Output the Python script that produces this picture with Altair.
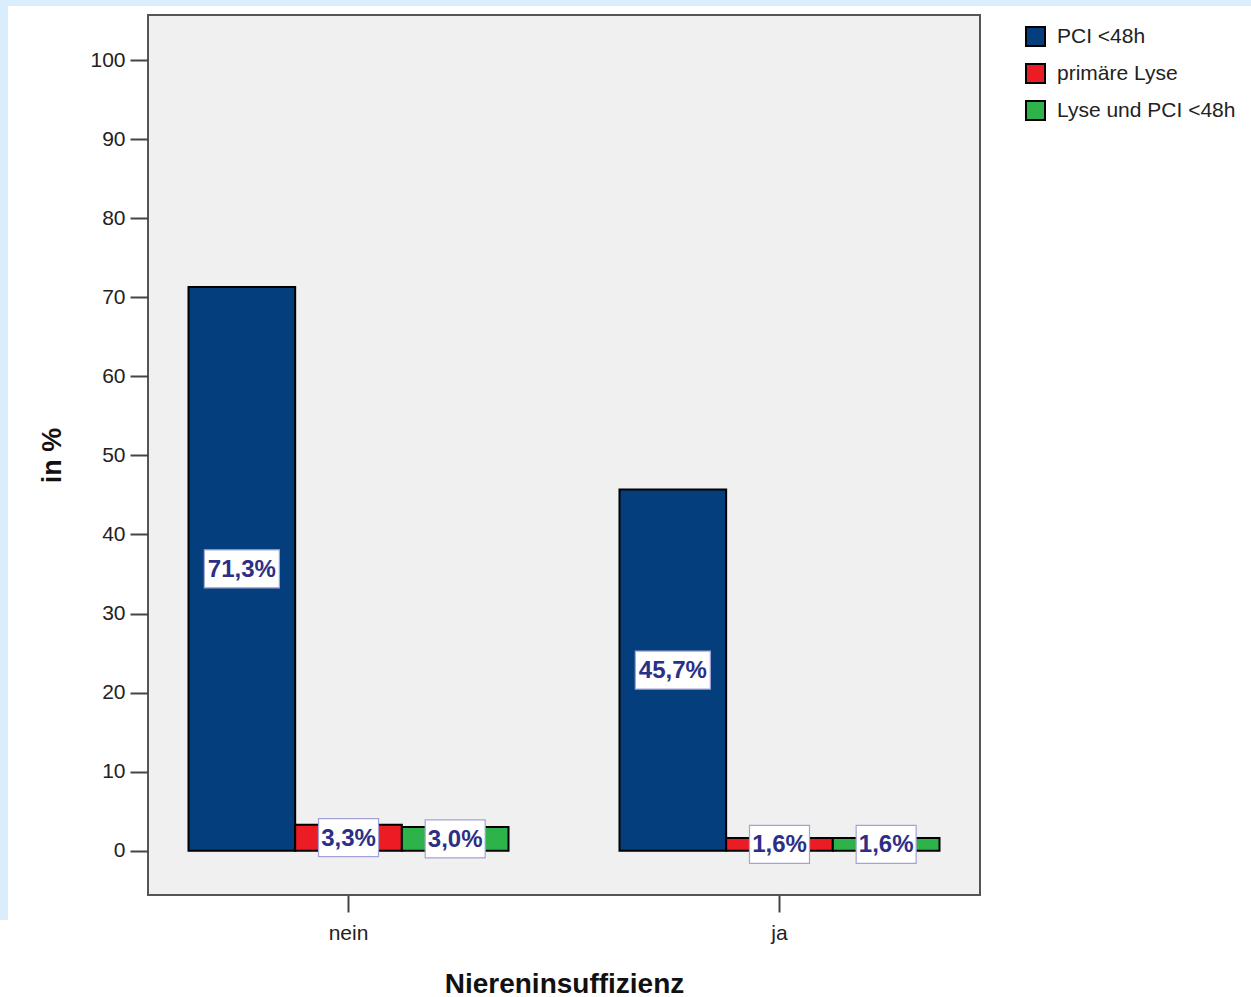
import altair as alt
import pandas as pd

# Treatment share by kidney insufficiency status
categories = ["nein", "ja"]
series = ["PCI <48h", "primäre Lyse", "Lyse und PCI <48h"]
values_nein = [71.3, 3.3, 3.0]
values_ja = [45.7, 1.6, 1.6]
colors = ["#043e7d", "#ec1c24", "#2eb34b"]
y_ticks = [0, 10, 20, 30, 40, 50, 60, 70, 80, 90, 100]

rows = []
for cat, vals in zip(categories, [values_nein, values_ja]):
    for s, v in zip(series, vals):
        rows.append({
            "Niereninsuffizienz": cat,
            "Gruppe": s,
            "Anteil": v,
            "Label": f"{v:.1f}".replace(".", ",") + "%",
        })
df = pd.DataFrame(rows)
df["LabelLen"] = df["Label"].str.len()

W, H = 832, 880
PAD_L, PAD_T = 148, 15
FONT = "Liberation Sans"

x_enc = alt.X(
    "Niereninsuffizienz:N",
    sort=categories,
    scale=alt.Scale(paddingInner=0.2575, paddingOuter=0.094),
    axis=alt.Axis(
        title="Niereninsuffizienz",
        labelAngle=0,
        labelFont=FONT,
        labelFontSize=21,
        labelColor="#222222",
        labelPadding=10,
        tickSize=17,
        tickWidth=2,
        tickColor="#444444",
        bandPosition=0.5,
        domain=False,
        titleFont=FONT,
        titleFontSize=28,
        titleFontWeight="bold",
        titleColor="#111111",
        titleY=89,
        titleBaseline="middle",
    ),
)
xoff_enc = alt.XOffset(
    "Gruppe:N", sort=series, scale=alt.Scale(paddingInner=0, paddingOuter=0)
)
y_scale = alt.Scale(domain=[-5.6, 105.7], nice=False, zero=False)

base = alt.Chart(df)

bars = base.mark_bar(stroke="black", strokeWidth=2).encode(
    x=x_enc,
    xOffset=xoff_enc,
    y=alt.Y(
        "Anteil:Q",
        scale=y_scale,
        axis=alt.Axis(
            title="in %",
            values=y_ticks,
            grid=False,
            domain=False,
            labelFont=FONT,
            labelFontSize=21,
            labelColor="#222222",
            labelPadding=5,
            tickSize=18,
            tickWidth=2,
            tickColor="#444444",
            titleFont=FONT,
            titleFontSize=27,
            titleFontWeight="bold",
            titleColor="#111111",
            titleX=-96,
            titleY=440,
            titleAngle=270,
            titleAlign="center",
            titleBaseline="middle",
        ),
    ),
    y2=alt.datum(0),
    color=alt.Color(
        "Gruppe:N",
        sort=series,
        scale=alt.Scale(domain=series, range=colors),
        legend=alt.Legend(
            title=None,
            orient="none",
            legendX=877,
            legendY=11,
            labelFont=FONT,
            labelFontSize=21,
            labelColor="#222222",
            labelOffset=11,
            labelLimit=0,
            symbolType="square",
            symbolSize=361,
            symbolStrokeColor="black",
            symbolStrokeWidth=2,
            rowPadding=10,
        ),
    ),
)

mid = alt.Y("mid:Q", scale=y_scale)


def label_box(n_chars, half_w):
    # rectangular label background, sized to the label text
    half_h = 19 / half_w
    path = f"M-1,-{half_h:.4f}H1V{half_h:.4f}H-1Z"
    return (
        base.transform_filter(alt.datum.LabelLen == n_chars)
        .transform_calculate(mid="datum.Anteil / 2")
        .mark_point(
            shape=path,
            size=(2 * half_w) ** 2,
            filled=True,
            fill="white",
            stroke="#a3a3d6",
            strokeWidth=1.2,
            opacity=1,
        )
        .encode(x=x_enc, xOffset=xoff_enc, y=mid)
    )


boxes_long = label_box(5, 37.5)
boxes_short = label_box(4, 30)

texts = (
    base.transform_calculate(mid="datum.Anteil / 2")
    .mark_text(
        font=FONT,
        fontSize=24,
        fontWeight="bold",
        color="#2c2f86",
        baseline="middle",
        align="center",
        dy=1,
    )
    .encode(x=x_enc, xOffset=xoff_enc, y=mid, text="Label:N")
)

# light blue margin strips along the top and left edge of the page
strip_df = pd.DataFrame({"k": [0]})
top_strip = alt.Chart(strip_df).mark_rect(color="#daedfc").encode(
    x=alt.value(-PAD_L), x2=alt.value(1251 - PAD_L),
    y=alt.value(-PAD_T), y2=alt.value(6 - PAD_T),
)
left_strip = alt.Chart(strip_df).mark_rect(color="#daedfc").encode(
    x=alt.value(-PAD_L), x2=alt.value(8 - PAD_L),
    y=alt.value(-PAD_T), y2=alt.value(920 - PAD_T),
)

chart = (
    alt.layer(top_strip, left_strip, bars, boxes_long, boxes_short, texts)
    .properties(
        width=W,
        height=H,
        padding={"left": PAD_L, "top": PAD_T, "right": 1251 - PAD_L - W, "bottom": 997 - PAD_T - H},
        autosize=alt.AutoSizeParams(type="none"),
        background="white",
    )
    .configure_view(fill="#f0f0f0", stroke="#555555", strokeWidth=2)
)

chart.save("out.html", embed_options={"renderer": "svg", "actions": False})
